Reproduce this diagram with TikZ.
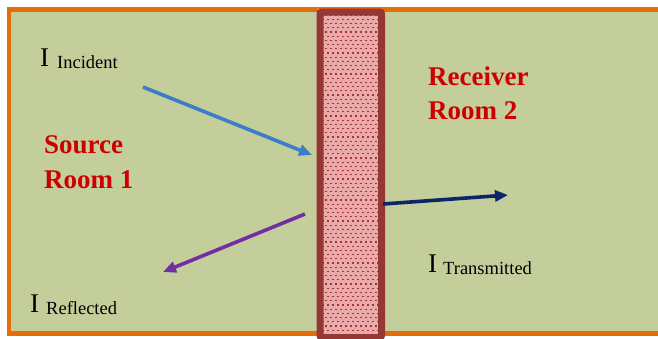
\documentclass[tikz,border=0pt]{standalone}
\usepackage{fontspec}
\setmainfont{Liberation Serif}
\usetikzlibrary{arrows.meta}
\definecolor{roomfill}{RGB}{196,206,155}
\definecolor{roomedge}{RGB}{228,108,10}
\definecolor{walledge}{RGB}{149,55,53}
\definecolor{wallfill}{RGB}{234,170,170}
\definecolor{walldot}{RGB}{165,52,52}
\definecolor{incblue}{RGB}{59,125,200}
\definecolor{refpurple}{RGB}{112,48,160}
\definecolor{transnavy}{RGB}{10,38,105}
\definecolor{roomred}{RGB}{205,0,0}
\tikzset{
  bigI/.style={anchor=base west, inner sep=0pt, font=\fontsize{27}{30}\selectfont},
  subtxt/.style={anchor=base west, inner sep=0pt, font=\fontsize{18.5}{20}\selectfont},
  roomtxt/.style={anchor=base west, inner sep=0pt, text=roomred, font=\fontsize{27}{30}\selectfont\bfseries},
  ray/.style={line width=3.6pt, -{Triangle[length=13pt,width=11pt]}},
}
\begin{document}
\begin{tikzpicture}[x=1pt,y=-1pt]
\useasboundingbox (0,0) rectangle (658,338);
\begin{scope}
\clip (0,0) rectangle (658,338);
\draw[roomedge, fill=roomfill, line width=4.5pt] (9,9.5) rectangle (668,333.5);
\end{scope}
% wall
\path[fill=wallfill] (316.5,8.5) rectangle (378,334);
\begin{scope}
\clip (316.5,8.5) rectangle (378,334);
\foreach \i in {0,...,78}{
  \pgfmathsetmacro{\yy}{11+4.2*\i}
  \pgfmathsetmacro{\ph}{mod(\i,2)*2.5}
  \draw[walldot, line width=1.3pt, dash pattern=on 2.4pt off 2.6pt, dash phase=\ph pt] (317,\yy) -- (378,\yy);
}
\end{scope}
\node[draw=walledge, line width=7pt, rounded corners=2pt, minimum width=61.5pt, minimum height=325.5pt, inner sep=0pt, anchor=north west] (wall) at (316.5,8.5) {};
% texts
\node[bigI] (iinc) at (40,66) {I};
\node[subtxt] (incsub) at (57,68) {Incident};
\node[bigI] (iref) at (30,312) {I};
\node[subtxt] (refsub) at (46,314) {Reflected};
\node[bigI] (itra) at (428,272) {I};
\node[subtxt] (trasub) at (443,274) {Transmitted};
\node[roomtxt] (src1) at (44,153) {Source};
\node[roomtxt] (src2) at (44,188) {Room 1};
\node[roomtxt] (rcv1) at (428,85) {Receiver};
\node[roomtxt] (rcv2) at (428,119) {Room 2};
% rays
\coordinate (incS) at (143,87);
\coordinate (incE) at (312,155);
\coordinate (refS) at (305,214);
\coordinate (refE) at (163,272);
\coordinate (traS) at (383,204);
\coordinate (traE) at (508,195);
\draw[ray, incblue] (incS) -- (incE);
\draw[ray, refpurple] (refS) -- (refE);
\draw[ray, transnavy] (traS) -- (traE);
\end{tikzpicture}
\end{document}
